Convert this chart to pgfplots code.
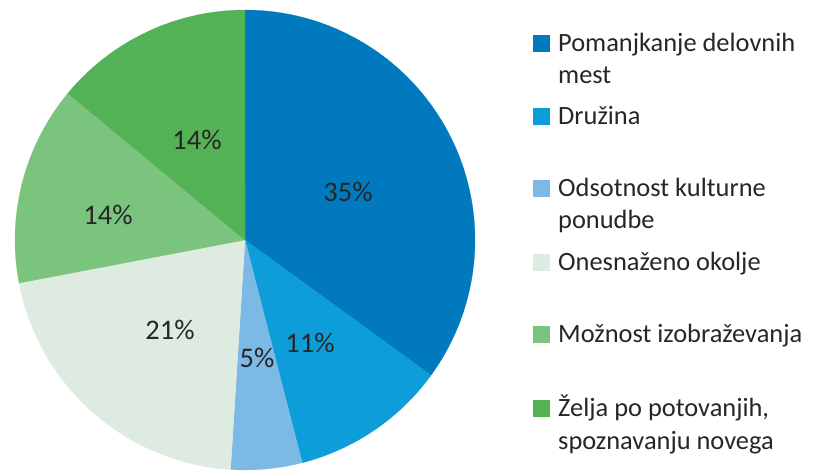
\documentclass[border=0pt]{standalone}
\usepackage{pgfplots}
\pgfplotsset{compat=1.18}
\usepackage{fontspec}
\setmainfont{Carlito}
\definecolor{c1}{RGB}{0,121,191}
\definecolor{c2}{RGB}{13,158,217}
\definecolor{c3}{RGB}{125,185,229}
\definecolor{c4}{RGB}{221,235,225}
\definecolor{c5}{RGB}{122,196,125}
\definecolor{c6}{RGB}{83,177,86}
\definecolor{txt}{RGB}{38,38,38}
\begin{document}
\begin{tikzpicture}
\begin{axis}[
  x=1bp, y=1bp, xmin=0, xmax=814, ymin=0, ymax=473,
  hide axis, clip=false, scale only axis,
  enlargelimits=false,
]
\path (axis cs:0,0) rectangle (axis cs:814,473);
% slices: cumulative percent 0-35-46-51-72-86-100, clockwise from top
\addplot[fill=c1, draw=c1, line width=0.2bp, domain=0:35, samples=120] ({245+230*sin(3.6*x)},{233+230*cos(3.6*x)}) -- (axis cs:245,233) -- cycle;
\addplot[fill=c2, draw=c2, line width=0.2bp, domain=35:46, samples=50] ({245+230*sin(3.6*x)},{233+230*cos(3.6*x)}) -- (axis cs:245,233) -- cycle;
\addplot[fill=c3, draw=c3, line width=0.2bp, domain=46:51, samples=30] ({245+230*sin(3.6*x)},{233+230*cos(3.6*x)}) -- (axis cs:245,233) -- cycle;
\addplot[fill=c4, draw=c4, line width=0.2bp, domain=51:72, samples=80] ({245+230*sin(3.6*x)},{233+230*cos(3.6*x)}) -- (axis cs:245,233) -- cycle;
\addplot[fill=c5, draw=c5, line width=0.2bp, domain=72:86, samples=60] ({245+230*sin(3.6*x)},{233+230*cos(3.6*x)}) -- (axis cs:245,233) -- cycle;
\addplot[fill=c6, draw=c6, line width=0.2bp, domain=86:100, samples=60] ({245+230*sin(3.6*x)},{233+230*cos(3.6*x)}) -- (axis cs:245,233) -- cycle;
% slice labels
\begin{scope}[every node/.style={text=txt, font=\fontsize{28.5}{30}\selectfont, inner sep=0pt}]
\node at (axis cs:348,281) {35\%};
\node at (axis cs:310,130) {11\%};
\node at (axis cs:257,115) {5\%};
\node at (axis cs:170,143) {21\%};
\node at (axis cs:108,258) {14\%};
\node at (axis cs:197,333) {14\%};
\end{scope}
% legend
\begin{scope}[every node/.style={text=txt, font=\fontsize{26.5}{30}\selectfont, inner sep=0pt, anchor=base west}]
\fill[c1] (axis cs:533,421) rectangle (axis cs:550,438);
\node at (axis cs:558,421) {Pomanjkanje delovnih};
\node at (axis cs:558,389) {mest};
\fill[c2] (axis cs:533,348) rectangle (axis cs:550,365);
\node at (axis cs:558,348) {Družina};
\fill[c3] (axis cs:533,276) rectangle (axis cs:550,293);
\node at (axis cs:558,276) {Odsotnost kulturne};
\node at (axis cs:558,244) {ponudbe};
\fill[c4] (axis cs:533,202) rectangle (axis cs:550,219);
\node at (axis cs:558,202) {Onesnaženo okolje};
\fill[c5] (axis cs:533,130) rectangle (axis cs:550,147);
\node at (axis cs:558,130) {Možnost izobraževanja};
\fill[c6] (axis cs:533,56) rectangle (axis cs:550,73);
\node at (axis cs:558,56) {Želja po potovanjih,};
\node at (axis cs:558,23) {spoznavanju novega};
\end{scope}
\end{axis}
\end{tikzpicture}
\end{document}
